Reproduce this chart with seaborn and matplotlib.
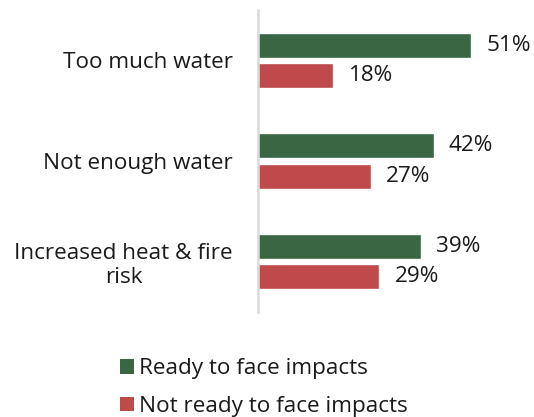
import matplotlib
matplotlib.use("Agg")
import matplotlib.pyplot as plt
import seaborn as sns
import pandas as pd
from matplotlib.patches import Patch

categories = ["Too much water", "Not enough water", "Increased heat & fire\nrisk"]
series_names = ["Ready to face impacts", "Not ready to face impacts"]
ready = [51, 42, 39]
not_ready = [18, 27, 29]
colors = ["#3A6644", "#BE4A4B"]

df = pd.DataFrame({
    "category": categories * 2,
    "series": [series_names[0]] * 3 + [series_names[1]] * 3,
    "value": ready + not_ready,
})

sns.set_style("white")
plt.rcParams["font.family"] = ["Open Sans", "DejaVu Sans"]
FS = 16.2

fig = plt.figure(figsize=(5.34, 4.17), dpi=100)
ax = fig.add_axes([258 / 534, (417 - 312) / 417, 1 - 258 / 534, 302 / 417])

sns.barplot(data=df, y="category", x="value", hue="series", orient="h",
            palette=colors, order=categories, hue_order=series_names,
            width=0.6, gap=0.167, ax=ax, legend=False, saturation=1)

for cont in ax.containers:
    ax.bar_label(cont, labels=[f"{int(v)}%" for v in cont.datavalues],
                 padding=11, fontsize=FS, color="#1a1a1a")

ax.set_xlim(0, 66)
ax.set_ylim(2.5, -0.5)
ax.set_xlabel("")
ax.set_ylabel("")
ax.set_xticks([])
ax.tick_params(axis="y", length=0, pad=18, labelsize=FS, labelcolor="#1a1a1a")
for lbl in ax.get_yticklabels():
    lbl.set_multialignment("center")
    lbl.set_linespacing(1.15)
for s in ["top", "right", "bottom"]:
    ax.spines[s].set_visible(False)
ax.spines["left"].set_color("#D9D9D9")
ax.spines["left"].set_linewidth(1.8)

handles = [Patch(facecolor=c, edgecolor="none") for c in colors]
fig.legend(handles, series_names, loc="upper left",
           bbox_to_anchor=(100 / 534, 1 - 338 / 417), frameon=False,
           fontsize=FS, handlelength=0.62, handleheight=0.62,
           handletextpad=0.2, labelspacing=0.74, labelcolor="#1a1a1a")

fig.savefig("out.png", dpi=100)
